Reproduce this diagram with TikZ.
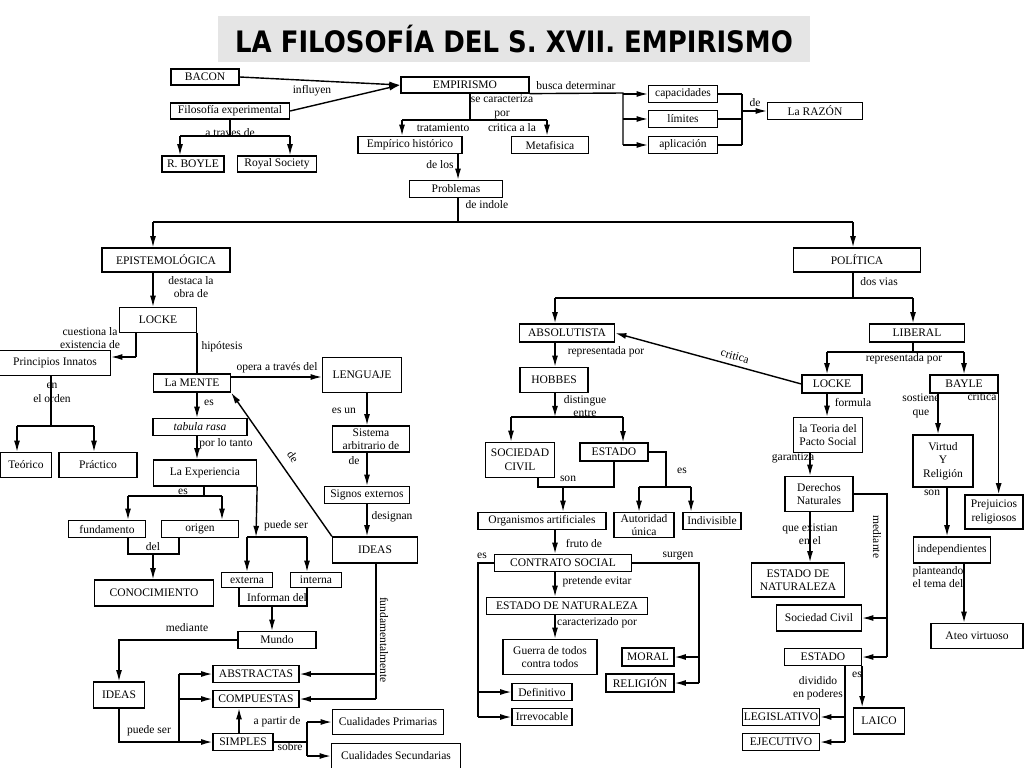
\documentclass[tikz,border=0pt]{standalone}
\usepackage{fontspec}
\setmainfont{Liberation Serif}
\newfontfamily\titlefam{DejaVu Sans}
\usepackage{tikz}
\usepackage{xcolor}
\usepackage{graphicx}
\usetikzlibrary{calc}
\usetikzlibrary{arrows.meta}
\usetikzlibrary{shapes}

\begin{document}
\begin{tikzpicture}
    [x=0.025cm, y=-0.025cm,
     concept/.style={rectangle, draw=black, line width=0.9pt, inner sep=1pt, align=center, font=\fontsize{8.2}{9.6}\selectfont},
     sz/.style 2 args={minimum width=#1*0.025cm, minimum height=#2*0.025cm},
     lbl/.style={inner sep=0.5pt, align=center, font=\fontsize{8.2}{9.6}\selectfont},
     heading/.style={fill=black!10, minimum width=592*0.025cm, minimum height=46*0.025cm, font=\titlefam\bfseries\fontsize{21}{24}\selectfont},
     wire/.style={line width=1pt},
     arr/.style={line width=1pt, -{Latex[length=2.8mm, width=1.5mm]}},
     back/.style={line width=1pt, {Latex[length=2.8mm, width=1.5mm]}-}]
    \path[use as bounding box, fill=white] (0,0) rectangle (1024,768);
    \node(title)[heading] at (514,39) {\scalebox{0.88}[1]{LA FILOSOFÍA DEL S. XVII. EMPIRISMO}};
    \foreach \n/\x/\y/\w/\h/\t in {bacon/205/77/68/16/BACON, filo/230/111/119/16/Filosofía experimental,
        empirismo/465/85/128/16/EMPIRISMO, boyle/193/164/62/16/R. BOYLE, royal/277/164/79/16/Royal Society,
        capac/683/94/69/17/capacidades, limites/683/119/69/17/límites, aplic/683/145/69/17/aplicación,
        razon/815/111/95/17/La RAZÓN, emphist/410/145/104/17/Empírico histórico, meta/550/145/77/17/Metafisica,
        problemas/456/189/93/17/Problemas, episte/166/260/128/24/EPISTEMOLÓGICA, politica/857/260/127/24/POLÍTICA,
        lockeA/158/320/77/25/LOCKE, princ/55/363/111/25/Principios Innatos, teorico/26/465/51/25/Teórico,
        practico/98/465/78/25/Práctico, mente/192/383/77/18/La MENTE, lenguaje/362/375/79/35/LENGUAJE,
        tabula/200/427/94/17/{\textit{tabula rasa}}, experiencia/205/473/103/26/La Experiencia,
        sistema/371/439/77/26/{Sistema\\arbitrario de}, signos/367/495/85/17/Signos externos,
        ideasA/375/550/85/26/IDEAS, fundam/107/529/77/17/fundamento, origen/200/529/77/17/origen,
        conoc/154/593/119/26/CONOCIMIENTO, externa/247/580/51/15/externa, interna/316/580/51/15/interna,
        mundo/277/640/78/17/Mundo, ideasB/119/695/51/26/IDEAS, abstr/256/674/86/17/ABSTRACTAS,
        compu/256/699/86/17/COMPUESTAS, simples/243/742/60/17/SIMPLES, cprim/388/722/111/25/Cualidades Primarias,
        csec/396/756/129/25/Cualidades Secundarias, absol/567/333/95/18/ABSOLUTISTA, hobbes/554/380/68/25/HOBBES,
        socciv/520/460/69/35/{SOCIEDAD\\CIVIL}, estadoA/614/452/68/18/ESTADO,
        organ/542/521/128/17/Organismos artificiales, autor/644/525/60/25/{Autoridad\\única},
        indiv/712/521/58/17/Indivisible, contrato/563/563/137/17/CONTRATO SOCIAL,
        estnat/567/606/161/17/ESTADO DE NATURALEZA, guerra/550/657/94/35/{Guerra de todos\\contra todos},
        definit/542/692/60/17/Definitivo, irrevoc/542/717/60/17/Irrevocable, moral/648/657/52/18/MORAL,
        religion/640/683/68/18/RELIGIÓN, liberal/917/333/95/18/LIBERAL, lockeB/832/384/60/18/LOCKE,
        bayle/964/384/68/18/BAYLE, teoria/828/435/69/35/{la Teoria del\\Pacto Social},
        derechos/819/494/68/35/{Derechos\\Naturales}, estnatB/798/580/93/34/{ESTADO DE\\NATURALEZA},
        socivil/819/618/85/26/Sociedad Civil, estadoB/823/657/77/17/ESTADO, legis/781/717/77/17/LEGISLATIVO,
        ejec/781/742/77/17/EJECUTIVO, laico/879/721/51/26/LAICO, virtud/943/461/60/52/{Virtud\\Y\\Religión},
        prejuicios/994/512/58/34/{Prejuicios\\religiosos}, indep/952/550/77/26/independientes,
        ateo/977/636/92/25/Ateo virtuoso}{
        \node(\n)[concept, sz={\w}{\h}] at (\x,\y) {\t};
    }
    \foreach \n/\x/\y/\t in {linfl/312/91/influyen, ltrav/230/133/a traves de, lbusca/576/86/busca determinar,
        lde1/755/103/de, lsecar/502/107/{se caracteriza\\por}, ltrat/443/128/tratamiento, lcrit1/512/128/critica a la,
        ldelos/440/165/de los, lindole/487/205/de indole, ldest/191/287/{destaca la\\obra de},
        lcuest/90/338/{cuestiona la\\existencia de}, lhipo/222/347/hipótesis, lopera/277/368/opera a través del,
        lenord/52/393/{en\\el orden}, les1/209/403/es, lporlo/226/444/por lo tanto, lesun/344/411/es un,
        lde2/354/461/de, ldesig/392/517/designan, les2/183/492/es, ldel/153/547/del, lpuede1/286/526/puede ser,
        linform/277/597/Informan del, lmedi1/187/628/mediante, lpuede2/149/731/puede ser,
        lapart/277/722/a partir de, lsobre/290/747/sobre, ldosv/879/282/dos vias, lrepr1/606/352/representada por,
        ldist/585/406/{distingue\\entre}, lson1/568/479/son, les3/682/471/es, lfruto/584/543/fruto de,
        les4/482/556/es, lsurg/678/556/surgen, lpret/597/582/pretende evitar, lcaract/597/623/caracterizado por,
        lrepr2/904/359/representada por, lform/853/402/formula, lgarant/793/458/garantiza,
        lsost/921/406/{sostiene\\que}, lcrit2/982/397/critica, lson2/932/493/son,
        lexist/810/534/{que existian\\en el}, lplant/938/577/{planteando\\el tema del},
        ldivid/818/688/{dividido\\en poderes}, les5/857/675/es}{
        \node(\n)[lbl] at (\x,\y) {\t};
    }
    \node(lfund)[lbl, rotate=-90] at (384,640) {fundamentalmente};
    \node(lmedi2)[lbl, rotate=-90] at (877,537) {mediante};
    % empirismo
    \draw[arr] (bacon.east) -- (empirismo.west);
    \draw[arr] (filo.east) -- (empirismo.west);
    \coordinate (fb1) at (180,136);
    \coordinate (fb2) at (290,136);
    \draw[wire] (filo.south) -- (filo.south |- fb1);
    \draw[wire] (fb1) -- (fb2);
    \foreach \a/\b in {fb1/boyle, fb2/royal}
        \draw[arr] (\a) -- (\a |- \b.north);
    \coordinate (eb) at (623,93);
    \draw[wire] (empirismo.south east) -- (eb) -- (eb |- aplic);
    \coordinate (rb) at (742,111);
    \foreach \n in {capac, limites, aplic}{
        \draw[arr] (eb |- \n) -- (\n.west);
        \draw[wire] (\n.east) -- (rb |- \n);
    }
    \draw[wire] (rb |- capac) -- (rb |- aplic);
    \draw[arr] (rb) -- (razon.west);
    \coordinate (ec) at (470,120);
    \coordinate (ea) at (402,120);
    \coordinate (em) at (547,120);
    \draw[wire] (empirismo.south -| ec) -- (ec);
    \draw[wire] (ea) -- (em);
    \draw[arr] (ea) -- (ea |- emphist.north);
    \draw[arr] (em) -- (em |- meta.north);
    \coordinate (pb) at (458,222);
    \coordinate (pl) at (153,222);
    \coordinate (pr) at (853,222);
    \draw[arr] (emphist.south -| pb) -- (problemas.north -| pb);
    \draw[wire] (problemas.south -| pb) -- (pb);
    \draw[wire] (pl) -- (pr);
    \draw[arr] (pl) -- (pl |- episte.north);
    \draw[arr] (pr) -- (pr |- politica.north);
    % epistemologica
    \draw[arr] (episte.south -| pl) -- (lockeA.north -| pl);
    \coordinate (lp) at (136,357);
    \draw[wire] (lockeA.south -| lp) -- (lp);
    \draw[arr] (lp) -- (princ.east |- lp);
    \coordinate (pe) at (51,426);
    \coordinate (pt) at (17,426);
    \coordinate (pp) at (94,426);
    \draw[wire] (princ.south -| pe) -- (pe);
    \draw[wire] (pt) -- (pp);
    \draw[arr] (pt) -- (pt |- teorico.north);
    \draw[arr] (pp) -- (pp |- practico.north);
    \draw[wire] (lockeA.south east) -- (lockeA.south east |- mente.north);
    \coordinate (ml) at (0,377);
    \draw[arr] (mente.east |- ml) -- (lenguaje.west |- ml);
    \coordinate (mx) at (197,0);
    \draw[arr] (mente.south -| mx) -- (tabula.north -| mx);
    \draw[arr] (tabula.south -| mx) -- (experiencia.north -| mx);
    \coordinate (lx) at (367,0);
    \foreach \a/\b in {lenguaje/sistema, sistema/signos, signos/ideasA}
        \draw[arr] (\a.south -| lx) -- (\b.north -| lx);
    \draw[back] (mente.south east) -- (ideasA.north west) node[lbl, sloped, above=6pt, pos=0.5] (lde3) {de};
    \coordinate (xe) at (204,496);
    \coordinate (xf) at (128,496);
    \coordinate (xo) at (222,496);
    \draw[wire] (experiencia.south -| xe) -- (xe);
    \draw[wire] (xf) -- (xo);
    \draw[arr] (xf) -- (xf |- fundam.north);
    \draw[arr] (xo) -- (xo |- origen.north);
    \coordinate (ca) at (128,554);
    \coordinate (cb) at (179,554);
    \coordinate (cc) at (153,554);
    \draw[wire] (fundam.south -| ca) -- (ca) -- (cb) -- (origen.south -| cb);
    \draw[arr] (cc) -- (cc |- conoc.north);
    \coordinate (ee) at (256,537);
    \coordinate (e1) at (247,537);
    \coordinate (e2) at (307,537);
    \draw[arr] (experiencia.south east) -- (ee);
    \draw[wire] (e1) -- (e2);
    \draw[arr] (e1) -- (e1 |- externa.north);
    \draw[arr] (e2) -- (e2 |- interna.north);
    \coordinate (ia) at (239,606);
    \coordinate (ib) at (307,606);
    \coordinate (ic) at (272,606);
    \draw[wire] (externa.south -| ia) -- (ia) -- (ib) -- (interna.south -| ib);
    \draw[arr] (ic) -- (ic |- mundo.north);
    \coordinate (mi) at (119,640);
    \draw[arr] (mundo.west) -- (mi) -- (ideasB.north);
    \coordinate (ib1) at (119,742);
    \coordinate (ib2) at (179,742);
    \draw[arr] (ideasB.south) -- (ib1) -- (simples.west);
    \draw[wire] (ib2) -- (ib2 |- abstr);
    \foreach \n in {abstr, compu}
        \draw[arr] (ib2 |- \n) -- (\n.west);
    \coordinate (sx) at (239,0);
    \draw[arr] (simples.north -| sx) -- (compu.south -| sx);
    \coordinate (sq) at (307,742);
    \draw[wire] (simples.east) -- (sq);
    \draw[wire] (sq |- cprim) -- (sq |- csec);
    \foreach \n in {cprim, csec}
        \draw[arr] (sq |- \n) -- (\n.west);
    \coordinate (fx) at (376,0);
    \draw[wire] (ideasA.south -| fx) -- (fx |- compu);
    \foreach \n in {abstr, compu}
        \draw[arr] (fx |- \n) -- (\n.east);
    % politica
    \coordinate (pa) at (555,298);
    \coordinate (pz) at (913,298);
    \coordinate (pm) at (853,298);
    \draw[wire] (politica.south -| pm) -- (pm);
    \draw[wire] (pa) -- (pz);
    \draw[arr] (pa) -- (pa |- absol.north);
    \draw[arr] (pz) -- (pz |- liberal.north);
    \coordinate (hx) at (555,0);
    \draw[arr] (absol.south -| hx) -- (hobbes.north -| hx);
    \coordinate (hs) at (555,417);
    \coordinate (h1) at (511,417);
    \coordinate (h2) at (623,417);
    \draw[arr] (hobbes.south -| hs) -- (hs);
    \draw[wire] (h1) -- (h2);
    \draw[arr] (h1) -- (h1 |- socciv.north);
    \draw[arr] (h2) -- (h2 |- estadoA.north);
    \coordinate (oa) at (538,487);
    \coordinate (ob) at (614,487);
    \coordinate (oc) at (563,487);
    \draw[wire] (socciv.south -| oa) -- (oa) -- (ob) -- (estadoA.south -| ob);
    \draw[arr] (oc) -- (oc |- organ.north);
    \coordinate (ez) at (666,487);
    \coordinate (eu) at (639,487);
    \coordinate (ei) at (691,487);
    \draw[wire] (estadoA.east) -- (estadoA.east -| ez) -- (ez);
    \draw[wire] (eu) -- (ei);
    \draw[arr] (eu) -- (eu |- autor.north);
    \draw[arr] (ei) -- (ei |- indiv.north);
    \foreach \a/\b in {organ/contrato, contrato/estnat, estnat/guerra}
        \draw[arr] (\a.south -| hx) -- (\b.north -| hx);
    \coordinate (cl) at (478,563);
    \draw[wire] (contrato.west) -- (cl) -- (cl |- irrevoc);
    \foreach \n in {definit, irrevoc}
        \draw[arr] (cl |- \n) -- (\n.west);
    \coordinate (cr) at (699,563);
    \draw[wire] (contrato.east) -- (cr) -- (cr |- religion);
    \foreach \n in {moral, religion}
        \draw[arr] (cr |- \n) -- (\n.east);
    \coordinate (lb) at (913,352);
    \coordinate (l1) at (827,352);
    \coordinate (l2) at (964,352);
    \draw[wire] (liberal.south -| lb) -- (lb);
    \draw[wire] (l1) -- (l2);
    \draw[arr] (l1) -- (l1 |- lockeB.north);
    \draw[arr] (l2) -- (l2 |- bayle.north);
    \draw[back] (absol.east) -- (lockeB.west) node[lbl, sloped, above=3pt, pos=0.63] (lcrit3) {critica};
    \coordinate (tx) at (827,0);
    \coordinate (dx) at (810,0);
    \draw[arr] (lockeB.south -| tx) -- (teoria.north -| tx);
    \draw[arr] (teoria.south -| dx) -- (derechos.north -| dx);
    \draw[arr] (derechos.south -| dx) -- (estnatB.north -| dx);
    \coordinate (dm) at (887,494);
    \draw[wire] (derechos.east) -- (dm) -- (dm |- estadoB);
    \foreach \n in {socivil, estadoB}
        \draw[arr] (dm |- \n) -- (\n.east);
    \coordinate (sp) at (845,0);
    \draw[wire] (estadoB.south -| sp) -- (sp |- ejec);
    \foreach \n in {legis, ejec}
        \draw[arr] (sp |- \n) -- (\n.east);
    \draw[arr] (estadoB.south east) -- (estadoB.south east |- laico.north);
    \coordinate (bv) at (938,0);
    \draw[arr] (bayle.south -| bv) -- (virtud.north -| bv);
    \draw[arr] (bayle.south east) -- (bayle.south east |- prejuicios.north);
    \coordinate (vx) at (947,0);
    \draw[arr] (virtud.south -| vx) -- (indep.north -| vx);
    \coordinate (ax) at (964,0);
    \draw[arr] (indep.south -| ax) -- (ateo.north -| ax);
\end{tikzpicture}
\end{document}
